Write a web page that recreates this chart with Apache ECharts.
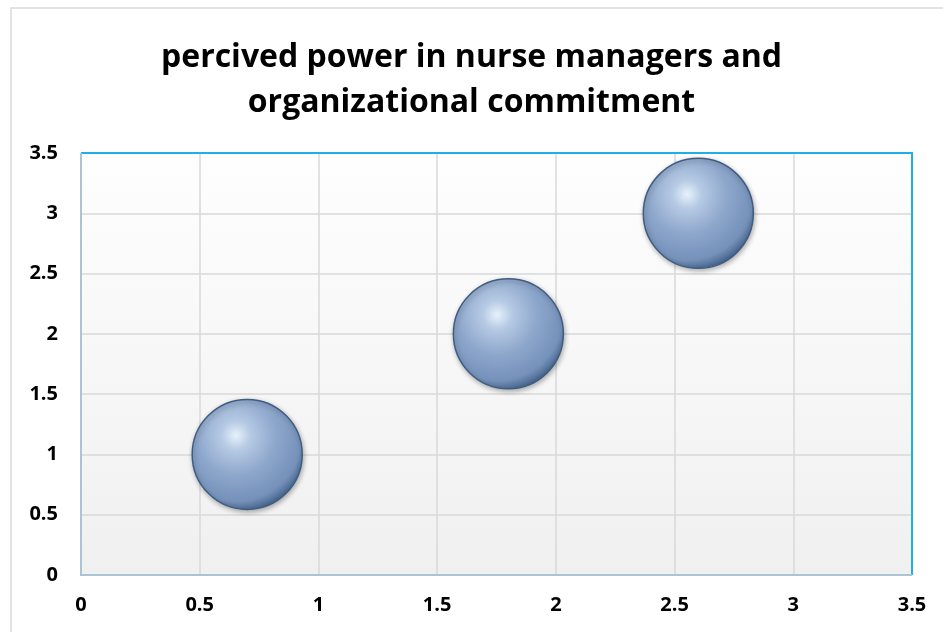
<!DOCTYPE html>
<html><head><meta charset="utf-8">
<script src="https://cdn.jsdelivr.net/npm/echarts@6/dist/echarts.min.js"></script>
<style>html,body{margin:0;padding:0;background:#fff}#c{width:943px;height:632px}</style>
</head><body><div id="c"></div>
<script>
const titleText = "percived power in nurse managers and\norganizational commitment";
const xValues = [0.7, 1.8, 2.6];
const yValues = [1, 2, 3];
const bubbleSizes = [1, 1, 1];

const chart = echarts.init(document.getElementById('c'));
const data = xValues.map((x, i) => [x, yValues[i], bubbleSizes[i]]);
const L = 81, T = 153, R = 943 - 912, B = 632 - 575;
chart.setOption({
  animation: false,
  backgroundColor: '#fff',
  graphic: [
    { type: 'rect', shape: { x: 11, y: 8, width: 940, height: 630 }, style: { fill: 'none', stroke: '#d9d9d9', lineWidth: 1.5 }, z: -10 },
    { type: 'rect', shape: { x: L, y: T, width: 943 - L - R, height: 632 - T - B },
      style: { fill: { type: 'linear', x: 0, y: 0, x2: 0, y2: 1, colorStops: [{ offset: 0, color: '#fefefe' }, { offset: 1, color: '#f0f0f0' }] } }, z: -5 },
    { type: 'polyline', shape: { points: [[L, T], [943 - R, T], [943 - R, 632 - B]] }, style: { stroke: '#1eaee8', lineWidth: 2, fill: 'none' }, z: 50 },
    { type: 'polyline', shape: { points: [[L, T], [L, 632 - B], [943 - R, 632 - B]] }, style: { stroke: '#a9c4d2', lineWidth: 2, fill: 'none' }, z: 50 }
  ],
  title: {
    text: titleText, left: 'center', top: 30,
    textStyle: { fontFamily: 'Open Sans', fontWeight: 'bold', fontSize: 32, lineHeight: 45, color: '#000' }
  },
  grid: { left: L, top: T, right: R, bottom: B },
  xAxis: {
    type: 'value', min: 0, max: 3.5, interval: 0.5,
    axisLine: { show: false }, axisTick: { show: false },
    axisLabel: { fontFamily: 'Open Sans', fontWeight: 'bold', fontSize: 20, color: '#000', margin: 20 },
    splitLine: { lineStyle: { color: '#d9d9d9', width: 1.5 } }
  },
  yAxis: {
    type: 'value', min: 0, max: 3.5, interval: 0.5,
    axisLine: { show: false }, axisTick: { show: false },
    axisLabel: { fontFamily: 'Open Sans', fontWeight: 'bold', fontSize: 20, color: '#000', margin: 23 },
    splitLine: { lineStyle: { color: '#d9d9d9', width: 1.5 } }
  },
  series: [{
    type: 'scatter', data: data,
    symbolSize: v => 110 * v[2],
    itemStyle: {
      color: { type: 'radial', x: 0.4, y: 0.33, r: 0.72, colorStops: [
        { offset: 0, color: '#e6f2fb' }, { offset: 0.18, color: '#b6cae4' },
        { offset: 0.5, color: '#8da6cb' }, { offset: 0.82, color: '#7591ba' }, { offset: 1, color: '#35557c' }] },
      borderColor: '#3f5d82', borderWidth: 1.5,
      shadowColor: 'rgba(0,0,0,0.3)', shadowBlur: 5, shadowOffsetX: 1, shadowOffsetY: 2,
      opacity: 1
    }
  }]
});
</script></body></html>
